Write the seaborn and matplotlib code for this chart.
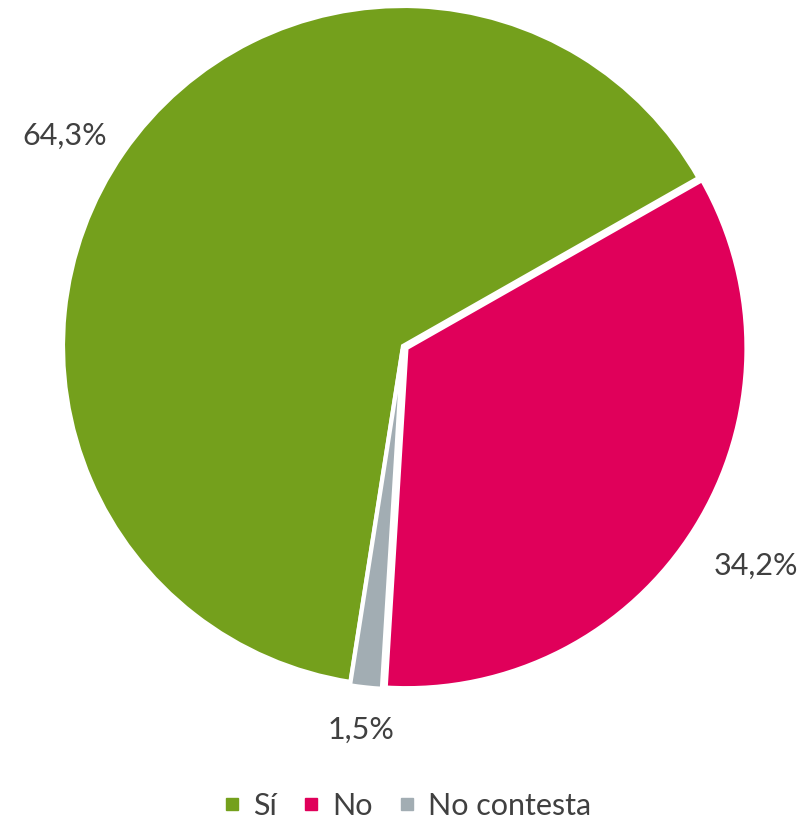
import matplotlib
matplotlib.use('Agg')
import matplotlib.pyplot as plt
from matplotlib.lines import Line2D
import seaborn as sns

# ─────────────────────────────────────────
# DATA
# ─────────────────────────────────────────
categories = ['Sí', 'No', 'No contesta']
values = [64.3, 34.2, 1.5]
colors = ['#74A01C', '#E0005A', '#A2ADB3']

sns.set_theme(style='white')
plt.rcParams['font.family'] = ['Lato', 'DejaVu Sans']
text_color = '#404040'

fig = plt.figure(figsize=(8.07, 8.22), dpi=100)
ax = fig.add_axes([63 / 807, (822 - 686) / 822, 680 / 807, 680 / 822])

wedges, texts, autotexts = ax.pie(
    values,
    colors=colors,
    startangle=-98.9,
    counterclock=False,
    explode=[0, 0.012, 0.01],
    autopct=lambda p: f'{p:.1f}%'.replace('.', ','),
    pctdistance=1.21,
    wedgeprops=dict(edgecolor='white', linewidth=3),
    textprops=dict(color=text_color, fontsize=22),
)
# Excel "best fit" nudges: first label a little lower, small slice closer in
x, y = autotexts[0].get_position()
autotexts[0].set_position((x * 1.0, y * 0.9))
x, y = autotexts[2].get_position()
autotexts[2].set_position((x * 0.93, y * 0.93))

ax.set_xlim(-1, 1)
ax.set_ylim(-1, 1)
ax.set_aspect('equal')
ax.axis('off')

handles = [Line2D([0], [0], marker='s', linestyle='none', markersize=8,
                  markerfacecolor=c, markeredgecolor=c) for c in colors]
fig.legend(handles, categories, loc='center', bbox_to_anchor=(407 / 807, 1 - 806 / 822),
           ncol=3, frameon=False, fontsize=22, handlelength=0.6, handletextpad=0.4,
           columnspacing=0.8, labelcolor=text_color)

fig.savefig('out.png', dpi=100)
